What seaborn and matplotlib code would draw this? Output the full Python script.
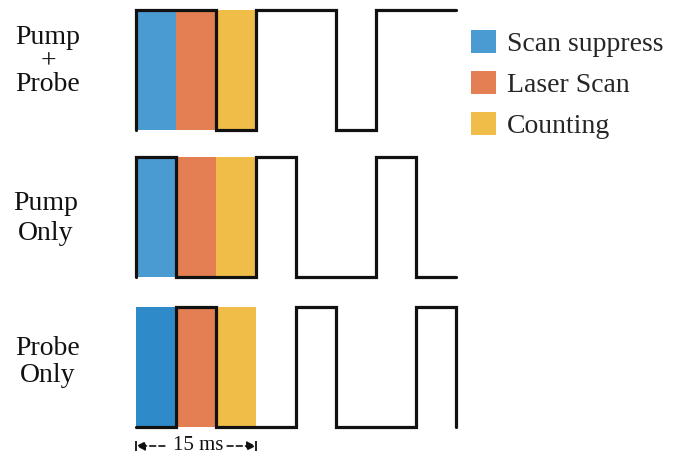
import numpy as np
import pandas as pd
import matplotlib
matplotlib.use("Agg")
import matplotlib.pyplot as plt
from matplotlib.patches import Patch
import seaborn as sns

# phases of each 15 ms cycle (ms)
phases = ["Scan suppress", "Laser Scan", "Counting"]
phase_start = [0, 5, 10]
phase_width = [5, 5, 5]
phase_colors = ["#4A9BD1", "#E37F53", "#F0BD48"]
probe_blue = "#2E8AC8"

# trigger waveforms: (time in ms, level 0/1), drawn as steps-post
row_names = [["Pump", "+", "Probe"], ["Pump", "Only"], ["Probe", "Only"]]
pp_t = [0, 0, 10, 15, 25, 30, 40]
pp_v = [0, 1, 0, 1, 0, 1, 1]
pump_t = [0, 0, 5, 15, 20, 30, 35, 40]
pump_v = [0, 1, 0, 1, 0, 1, 0, 0]
probe_t = [0, 5, 10, 20, 25, 35, 40]
probe_v = [0, 1, 0, 1, 0, 1, 0]

# layout (y in pixel-like units, inverted)
row_base = [130, 277, 427]
amp = 120
label_x = [-11.0, -11.3, -11.1]
label_base = [[44, 68, 91], [210, 240], [355, 382]]


def main():
    sns.set_style("white")
    plt.rcParams["font.family"] = ["Liberation Serif", "DejaVu Serif"]

    fig = plt.figure(figsize=(6.82, 4.55), dpi=100)
    ax = fig.add_axes([0, 0, 1, 1])
    ax.set_xlim(-17, 68.25)
    ax.set_ylim(455, 0)
    ax.axis("off")

    waves = [(pp_t, pp_v), (pump_t, pump_v), (probe_t, probe_v)]
    for i, (t, v) in enumerate(waves):
        cols = list(phase_colors)
        if i == 2:
            cols[0] = probe_blue
        ax.bar(phase_start, -amp, width=phase_width, bottom=row_base[i],
               align="edge", color=cols, linewidth=0, zorder=1)
        df = pd.DataFrame({"t": t, "y": [row_base[i] - amp * x for x in v]})
        sns.lineplot(data=df, x="t", y="y", estimator=None, sort=False,
                     drawstyle="steps-post", color="#111111", linewidth=2.3,
                     solid_joinstyle="miter", ax=ax, zorder=3)
        for txt, yb in zip(row_names[i], label_base[i]):
            ax.text(label_x[i], yb, txt, ha="center", va="baseline",
                    fontsize=20, color="#111111")

    ax.set_xlabel("")
    ax.set_ylabel("")

    # 15 ms marker
    cycle = phase_start[-1] + phase_width[-1]
    ax.text(cycle / 2 + 0.3, 450, "15 ms", ha="center", va="baseline",
            fontsize=15, color="#111111")
    arr = dict(arrowstyle="-|>", linestyle=(0, (3.5, 2)), color="#111111",
               lw=1.2, mutation_scale=13, shrinkA=0, shrinkB=0)
    ax.annotate("", xy=(0, 446), xytext=(3.6, 446), arrowprops=arr)
    ax.annotate("", xy=(cycle, 446), xytext=(11.4, 446), arrowprops=arr)
    ax.vlines([0, cycle], 441, 451, color="#111111", lw=1.3)

    handles = [Patch(facecolor=c, edgecolor="none") for c in phase_colors]
    ax.legend(handles, phases, loc="upper left", bbox_to_anchor=(0.691, 0.935),
              frameon=False, fontsize=20, handlelength=0.9, handleheight=0.9,
              handletextpad=0.4, labelspacing=0.5, borderpad=0, borderaxespad=0)

    fig.savefig("out.png", dpi=100)


if __name__ == "__main__":
    main()
